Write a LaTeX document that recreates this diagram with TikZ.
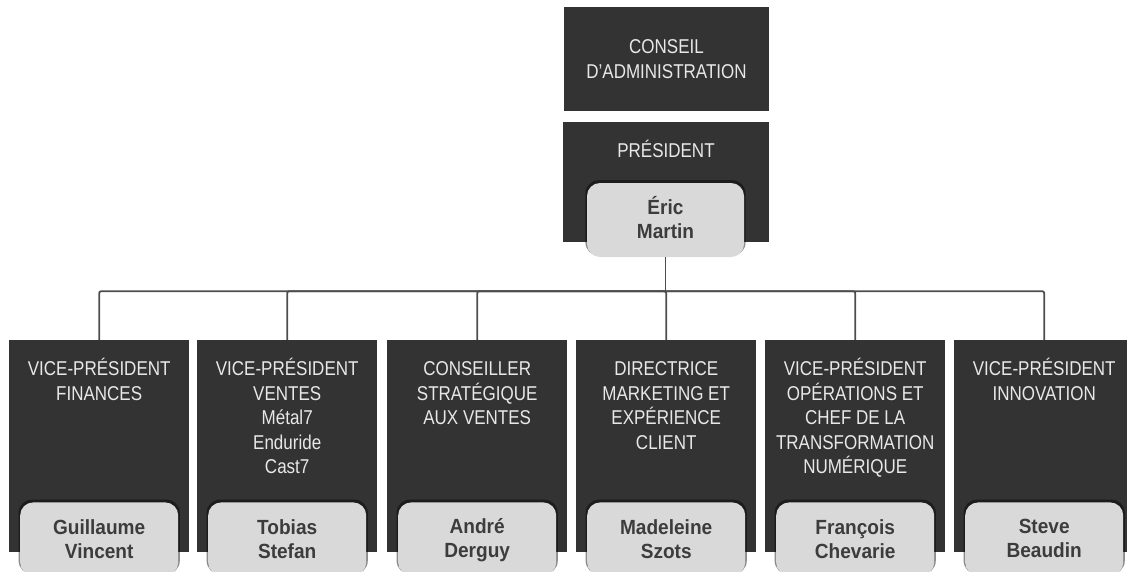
\documentclass[tikz,border=0pt]{standalone}
\usepackage{fontspec}
\setmainfont{Liberation Sans}[FakeStretch=0.85]
\newfontfamily\namefont{Liberation Sans}[FakeStretch=0.93]
\usetikzlibrary{positioning,shadows}
\definecolor{boxdark}{HTML}{333333}
\definecolor{namegray}{HTML}{D9D9D9}
\definecolor{titlewhite}{HTML}{E8E8E8}
\definecolor{nametext}{HTML}{3C3C3C}
\definecolor{linkgray}{HTML}{4D4D4D}
\newcommand\capsonly[1]{\smash{#1}\vphantom{A}}
\begin{document}
\begin{tikzpicture}[x=1pt,y=1pt,
  rolebox/.style={fill=boxdark, inner sep=0, minimum width=180pt, minimum height=212pt, anchor=north west},
  topbox/.style={fill=boxdark, inner sep=0, minimum width=205pt},
  title/.style={text=titlewhite, font=\fontsize{20}{24.5}\selectfont, align=center, inner sep=0},
  namebox/.style={fill=namegray, rounded corners=13pt, minimum width=158pt, minimum height=73pt, inner sep=0,
    align=center, text=nametext, font=\namefont\bfseries\fontsize{20.5}{24}\selectfont,
    general shadow={fill=black, opacity=0.45, shadow scale=1.02, shadow yshift=2pt}},
  link/.style={draw=linkgray, line width=1.8pt}]
  \useasboundingbox (0,0) rectangle (1127,-571);
  % top of the chart
  \node[topbox, title, minimum height=104pt] (conseil) at (666.5,-59) {CONSEIL\\D’ADMINISTRATION};
  \node[topbox, minimum width=206pt, minimum height=120pt] (pres) at (666,-182) {};
  \node[title, anchor=north, below=18pt of pres.north] {PRÉSIDENT};
  \node[namebox, minimum width=157pt, minimum height=74pt] (eric) at (665.5,-220) {\capsonly{Éric}\\Martin};
  \coordinate (bus) at ([yshift=-34pt]eric.south);
  \draw[link] (eric.south) -- (bus);
  % the six directors
  \foreach \x/\id/\role/\who in {
      9/vpf/{VICE-PRÉSIDENT\\FINANCES}/{Guillaume\\Vincent},
      197/vpv/{VICE-PRÉSIDENT\\VENTES\\Métal7\\Enduride\\Cast7}/{Tobias\\Stefan},
      387/csv/{CONSEILLER\\STRATÉGIQUE\\AUX VENTES}/{\capsonly{André}\\\capsonly{Derguy}},
      576/dmk/{DIRECTRICE\\MARKETING ET\\EXPÉRIENCE\\CLIENT}/{Madeleine\\Szots},
      765/vpo/{VICE-PRÉSIDENT\\OPÉRATIONS ET\\CHEF DE LA\\TRANSFORMATION\\NUMÉRIQUE}/{François\\Chevarie},
      954/vpi/{VICE-PRÉSIDENT\\INNOVATION}/{Steve\\Beaudin}} {
    \node[rolebox] (\id) at (\x,-340) {};
    \node[title, below=18pt of \id.north] {\vphantom{É}\role};
    \node[namebox] at ([yshift=13.5pt]\id.south) {\who};
    \draw[link, rounded corners=2pt] (bus) -| (\id.north);
  }
\end{tikzpicture}
\end{document}
